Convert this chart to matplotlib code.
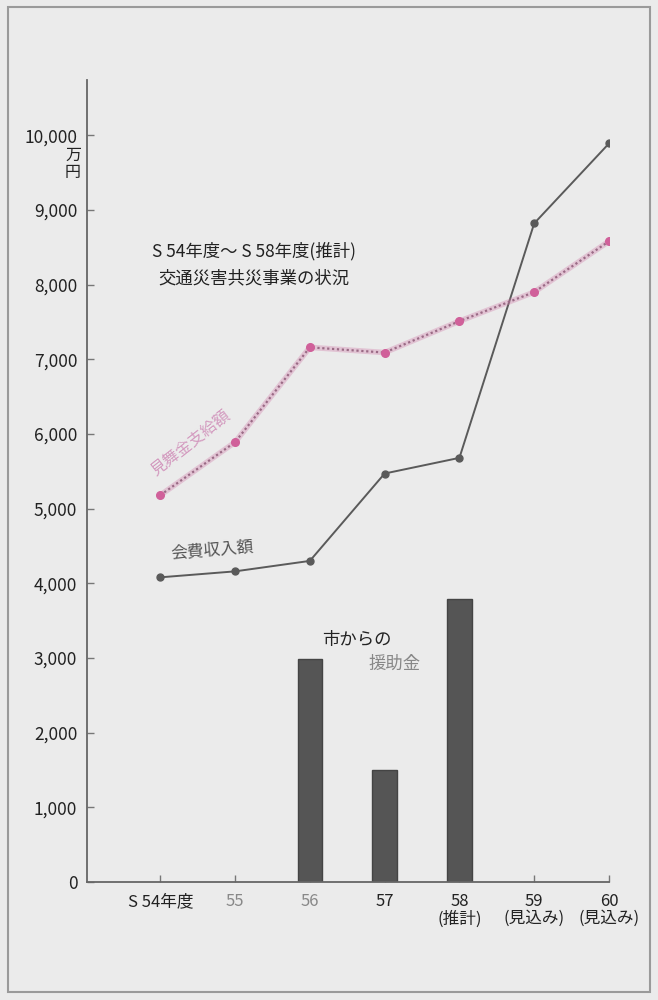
import matplotlib
matplotlib.use('Agg')
import matplotlib.pyplot as plt
from matplotlib.patches import Rectangle

plt.rcParams['font.family'] = ['Noto Sans CJK JP', 'DejaVu Sans']

# data (万円)
years = [54, 55, 56, 57, 58, 59, 60]
year_labels = ['S 54年度', '55', '56', '57', '58\n(推計)', '59\n(見込み)', '60\n(見込み)']
kaihi = [4080, 4160, 4300, 5470, 5680, 8820, 9890]        # 会費収入額
mimai = [5180, 5890, 7160, 7090, 7510, 7900, 8580]        # 見舞金支給額
enjo_years = [56, 57, 58]
enjo = [2990, 1500, 3790]                                 # 市からの援助金
y_ticks = [0, 1000, 2000, 3000, 4000, 5000, 6000, 7000, 8000, 9000, 10000]

bg = '#ebebeb'
fig = plt.figure(figsize=(6.58, 10), dpi=100, facecolor=bg)
fig.patches.append(Rectangle((0.012, 0.008), 0.976, 0.985, transform=fig.transFigure,
                             fill=False, edgecolor='#9a9a9a', linewidth=1.5))

ax = fig.add_axes([0.1322, 0.118, 0.7933, 0.802])
ax.set_facecolor('none')

ax.bar(enjo_years, enjo, width=0.33, color='#555555', edgecolor='#444444', zorder=2)
ax.plot(years, kaihi, color='#5a5a5a', lw=1.4, marker='o', ms=5, zorder=3)
ax.plot(years, mimai, color='#d07aa8', lw=4, alpha=0.35, zorder=3)
ax.plot(years, mimai, color='#9a6a85', lw=1.6, ls=(0, (1, 1.2)), zorder=4)
ax.plot(years, mimai, ls='none', marker='o', ms=5.5, color='#d0609a', zorder=5)

ax.set_xlim(53.02, 60.0)
ax.set_ylim(0, 10740)
ax.set_yticks(y_ticks)
ax.set_yticklabels(['{:,}'.format(v) for v in y_ticks], fontsize=12.5, color='#222222')
ax.set_xticks(years)
ax.set_xticklabels(year_labels, fontsize=12, linespacing=1.0)
for lab, c in zip(ax.get_xticklabels(), ['#222', '#888', '#888', '#222', '#222', '#222', '#222']):
    lab.set_color(c)
ax.tick_params(axis='both', direction='in', length=5, color='#777777', width=1)
ax.tick_params(axis='y', pad=7)
ax.tick_params(axis='x', pad=8)
for s in ['top', 'right']:
    ax.spines[s].set_visible(False)
for s in ['left', 'bottom']:
    ax.spines[s].set_color('#666666')
    ax.spines[s].set_linewidth(1.3)

fig.text(73 / 658, 1 - 147 / 1000, '万\n円', ha='center', va='top',
         fontsize=11.5, linespacing=1.0, color='#222222')

ax.text(55.25, 8270, 'S 54年度～ S 58年度(推計)\n交通災害共災事業の状況', ha='center', va='center',
        fontsize=12.5, linespacing=1.6, color='#222222')
ax.text(54.7, 4440, '会費収入額', ha='center', va='center', fontsize=12,
        rotation=5, color='#555555')
ax.text(54.4, 5880, '見舞金支給額', ha='center', va='center', fontsize=11.5,
        rotation=38, color='#d39abf')
ax.text(56.63, 3240, '市からの', ha='center', va='center', fontsize=12.5, color='#222222')
ax.text(57.13, 2920, '援助金', ha='center', va='center', fontsize=12.5, color='#888888')

fig.savefig('out.png', dpi=100, facecolor=bg)
